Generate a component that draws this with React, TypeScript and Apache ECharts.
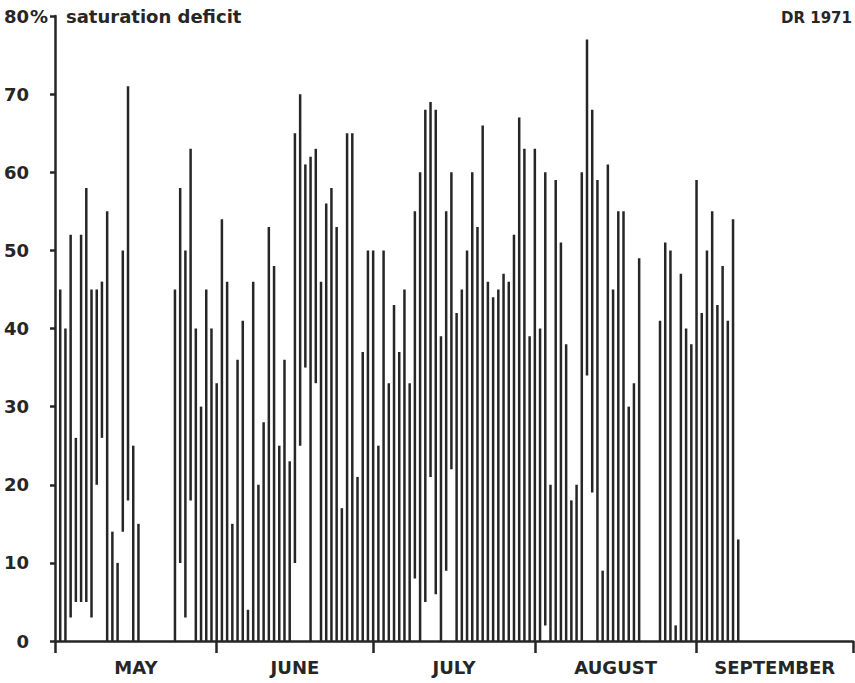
import React, { useEffect, useRef } from "react";
import * as echarts from "echarts";

// Day number counted from 1 May 1971 (bar drawn at the end of that day)
const dayNumbers = [
  1, 2, 3, 4, 5, 6, 7, 8, 9, 10, 11, 12, 13, 14, 15, 16,
  23, 24, 25, 26, 27, 28, 29, 30, 31, 32, 33, 34, 35, 36, 37, 38, 39, 40, 41, 42, 43, 44, 45,
  46, 47, 48, 49, 50, 51, 52, 53, 54, 55, 56, 57, 58, 59, 60, 61, 62, 63, 64, 65, 66, 67, 68,
  69, 70, 71, 72, 73, 74, 75, 76, 77, 78, 79, 80, 81, 82, 83, 84, 85, 86, 87, 88, 89, 90, 91, 92,
  93, 94, 95, 96, 97, 98, 99, 100, 101, 102, 103, 104, 105, 106, 107, 108, 109, 110, 111, 112,
  116, 117, 118, 119, 120, 121, 122, 123, 124, 125, 126, 127, 128, 129, 130, 131,
];

// daily minimum saturation deficit (%)
const lows = [
  0, 0, 3, 5, 5, 5, 3, 20, 26, 0, 0, 0, 14, 18, 0, 0,
  0, 10, 3, 18, 0, 0, 0, 0, 0, 0, 0, 0, 0, 0, 0, 0, 0, 0, 0, 0, 0, 0, 0,
  10, 25, 35, 0, 33, 0, 0, 0, 0, 0, 0, 0, 0, 0, 0, 0, 0, 0, 0, 0, 0, 0, 0,
  8, 0, 5, 21, 6, 0, 9, 22, 0, 0, 0, 0, 0, 0, 0, 0, 0, 0, 0, 0, 0, 0, 0, 0,
  0, 2, 0, 0, 0, 0, 0, 0, 0, 34, 19, 0, 0, 0, 0, 0, 0, 0, 0, 0,
  0, 0, 0, 0, 0, 0, 0, 0, 0, 0, 0, 0, 0, 0, 0, 0,
];

// daily maximum saturation deficit (%)
const highs = [
  45, 40, 52, 26, 52, 58, 45, 45, 46, 55, 14, 10, 50, 71, 25, 15,
  45, 58, 50, 63, 40, 30, 45, 40, 33, 54, 46, 15, 36, 41, 4, 46, 20, 28, 53, 48, 25, 36, 23,
  65, 70, 61, 62, 63, 46, 56, 58, 53, 17, 65, 65, 21, 37, 50, 50, 25, 50, 33, 43, 37, 45, 33,
  55, 60, 68, 69, 68, 39, 55, 60, 42, 45, 50, 60, 53, 66, 46, 44, 45, 47, 46, 52, 67, 63, 39, 63,
  40, 60, 20, 59, 51, 38, 18, 20, 60, 77, 68, 59, 9, 61, 45, 55, 55, 30, 33, 49,
  41, 51, 50, 2, 47, 40, 38, 59, 42, 50, 55, 43, 48, 41, 54, 13,
];

const monthStarts = [0, 31, 61, 92, 123, 153];
const monthNames = ["MAY", "JUNE", "JULY", "AUGUST", "SEPTEMBER"];
const yTicks = [0, 10, 20, 30, 40, 50, 60, 70, 80];

const INK = "#262626";
const FONT = "DejaVu Sans";

export default function App() {
  const ref = useRef<HTMLDivElement>(null);

  useEffect(() => {
    if (!ref.current) return;
    const chart = echarts.init(ref.current, null, { renderer: "svg" });

    const data = dayNumbers.map((d, i) => [d, lows[i], highs[i]]);
    const monthMids = monthNames.map((_, i) => (monthStarts[i] + monthStarts[i + 1]) / 2);

    chart.setOption({
      animation: false,
      backgroundColor: "#ffffff",
      grid: { left: 55, right: 2, top: 16, bottom: 42, containLabel: false, outerBoundsMode: "none" },
      xAxis: {
        type: "value",
        min: 0,
        max: 153,
        axisLine: { show: true, lineStyle: { color: INK, width: 2.5 } },
        axisTick: {
          show: true,
          customValues: monthStarts,
          length: 12,
          inside: false,
          lineStyle: { color: INK, width: 2.5 },
        },
        axisLabel: {
          show: true,
          customValues: monthMids,
          margin: 17,
          color: INK,
          fontFamily: FONT,
          fontWeight: "bold",
          fontSize: 18,
          formatter: (v: number) => {
            const idx = monthMids.findIndex((m) => Math.abs(m - v) < 0.01);
            return idx >= 0 ? monthNames[idx] : "";
          },
        },
        splitLine: { show: false },
      },
      yAxis: {
        type: "value",
        min: yTicks[0],
        max: yTicks[yTicks.length - 1],
        interval: 10,
        axisLine: { show: true, lineStyle: { color: INK, width: 2.5 } },
        axisTick: { show: true, length: 5, inside: false, lineStyle: { color: INK, width: 2.5 } },
        axisLabel: {
          color: INK,
          fontFamily: FONT,
          fontWeight: "bold",
          fontSize: 18,
          margin: 26,
          align: "right",
          formatter: (v: number) => String(v),
        },
        splitLine: { show: false },
      },
      graphic: [
        {
          type: "text",
          x: 30,
          y: 16,
          style: {
            text: "%",
            fill: INK,
            font: `bold 18px "${FONT}"`,
            textAlign: "left",
            textVerticalAlign: "middle",
          },
        },
        {
          type: "text",
          x: 66,
          y: 16,
          style: {
            text: "saturation deficit",
            fill: INK,
            font: `bold 18px "${FONT}"`,
            textAlign: "left",
            textVerticalAlign: "middle",
          },
        },
        {
          type: "text",
          x: 852,
          y: 18,
          style: {
            text: "DR 1971",
            fill: INK,
            font: `bold 15px "${FONT}"`,
            textAlign: "right",
            textVerticalAlign: "middle",
          },
        },
      ],
      series: [
        {
          type: "custom",
          data,
          encode: { x: 0, y: [1, 2] },
          renderItem: (params: any, api: any) => {
            const x = api.value(0);
            const p1 = api.coord([x, api.value(1)]);
            const p2 = api.coord([x, api.value(2)]);
            return {
              type: "line",
              shape: { x1: p1[0], y1: p1[1], x2: p2[0], y2: p2[1] },
              style: { stroke: INK, lineWidth: 2.5, lineCap: "butt" },
            };
          },
        },
      ],
    });

    return () => chart.dispose();
  }, []);

  return (
    <div
      ref={ref}
      style={{ position: "absolute", left: 0, top: 0, width: 855, height: 683, background: "#fff" }}
    />
  );
}
